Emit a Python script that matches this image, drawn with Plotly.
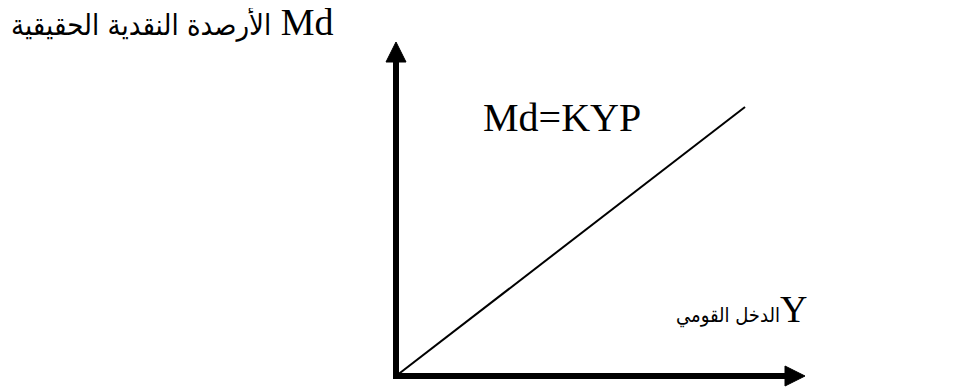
import plotly.graph_objects as go

# ---- data (schematic, in axis units) ----
x_axis_end = 409          # length of income (Y) axis
y_axis_end = 334          # length of money balances (Md) axis
demand_x = [0, 349]       # Md = KYP line, x values
demand_y = [0, 269]       # Md = KYP line, y values
label_curve = "Md=KYP"
label_y_axis_ar = "الأرصدة النقدية الحقيقية"
label_y_axis_sym = "Md"
label_x_axis_ar = "الدخل القومي"
label_x_axis_sym = "Y"

# ---- style ----
shaft_w = 6
head_len = 20
head_half = 10
latin_family = "Liberation Serif, Times New Roman, serif"
arabic_family = "DejaVu Sans Condensed, DejaVu Sans, sans-serif"
font_size = 38

fig = go.Figure()

# axes shafts
fig.add_trace(go.Scatter(x=[-3, x_axis_end - head_len + 2], y=[0, 0], mode="lines",
                         line=dict(color="black", width=shaft_w), hoverinfo="skip"))
fig.add_trace(go.Scatter(x=[0, 0], y=[-3, y_axis_end - head_len + 2], mode="lines",
                         line=dict(color="black", width=shaft_w), hoverinfo="skip"))
# arrowheads
fig.add_trace(go.Scatter(
    x=[x_axis_end - head_len, x_axis_end, x_axis_end - head_len, x_axis_end - head_len],
    y=[-head_half, 0, head_half, -head_half],
    mode="lines", fill="toself", fillcolor="black", line=dict(color="black", width=1),
    hoverinfo="skip"))
fig.add_trace(go.Scatter(
    x=[-head_half, 0, head_half, -head_half],
    y=[y_axis_end - head_len, y_axis_end, y_axis_end - head_len, y_axis_end - head_len],
    mode="lines", fill="toself", fillcolor="black", line=dict(color="black", width=1),
    hoverinfo="skip"))
# demand line
fig.add_trace(go.Scatter(x=demand_x, y=demand_y, mode="lines",
                         line=dict(color="black", width=2), hoverinfo="skip"))

fnt = dict(family=latin_family, size=font_size, color="black")


def mixed(ar, sym, ar_size, gap=" "):
    return (f'<span style="font-family:{arabic_family};font-size:{ar_size}px">{ar}</span>'
            f'{gap}{sym}')


fig.add_annotation(x=85, y=259, xref="x", yref="y", text=label_curve, showarrow=False,
                   xanchor="left", yanchor="middle",
                   font=dict(family=latin_family, size=40, color="black"))
fig.add_annotation(x=-60, y=354, xref="x", yref="y",
                   text=mixed(label_y_axis_ar, label_y_axis_sym, 29),
                   showarrow=False, xanchor="right", yanchor="middle", font=fnt)
fig.add_annotation(x=413, y=67, xref="x", yref="y",
                   text=mixed(label_x_axis_ar, label_x_axis_sym, 20, gap=""),
                   showarrow=False, xanchor="right", yanchor="middle", font=fnt)

fig.update_layout(
    width=952, height=380,
    margin=dict(l=0, r=0, t=0, b=0),
    paper_bgcolor="white", plot_bgcolor="white",
    showlegend=False,
    xaxis=dict(range=[-388, 564], visible=False, fixedrange=True),
    yaxis=dict(range=[-12, 368], visible=False, fixedrange=True),
)

fig.write_html("out.html")
